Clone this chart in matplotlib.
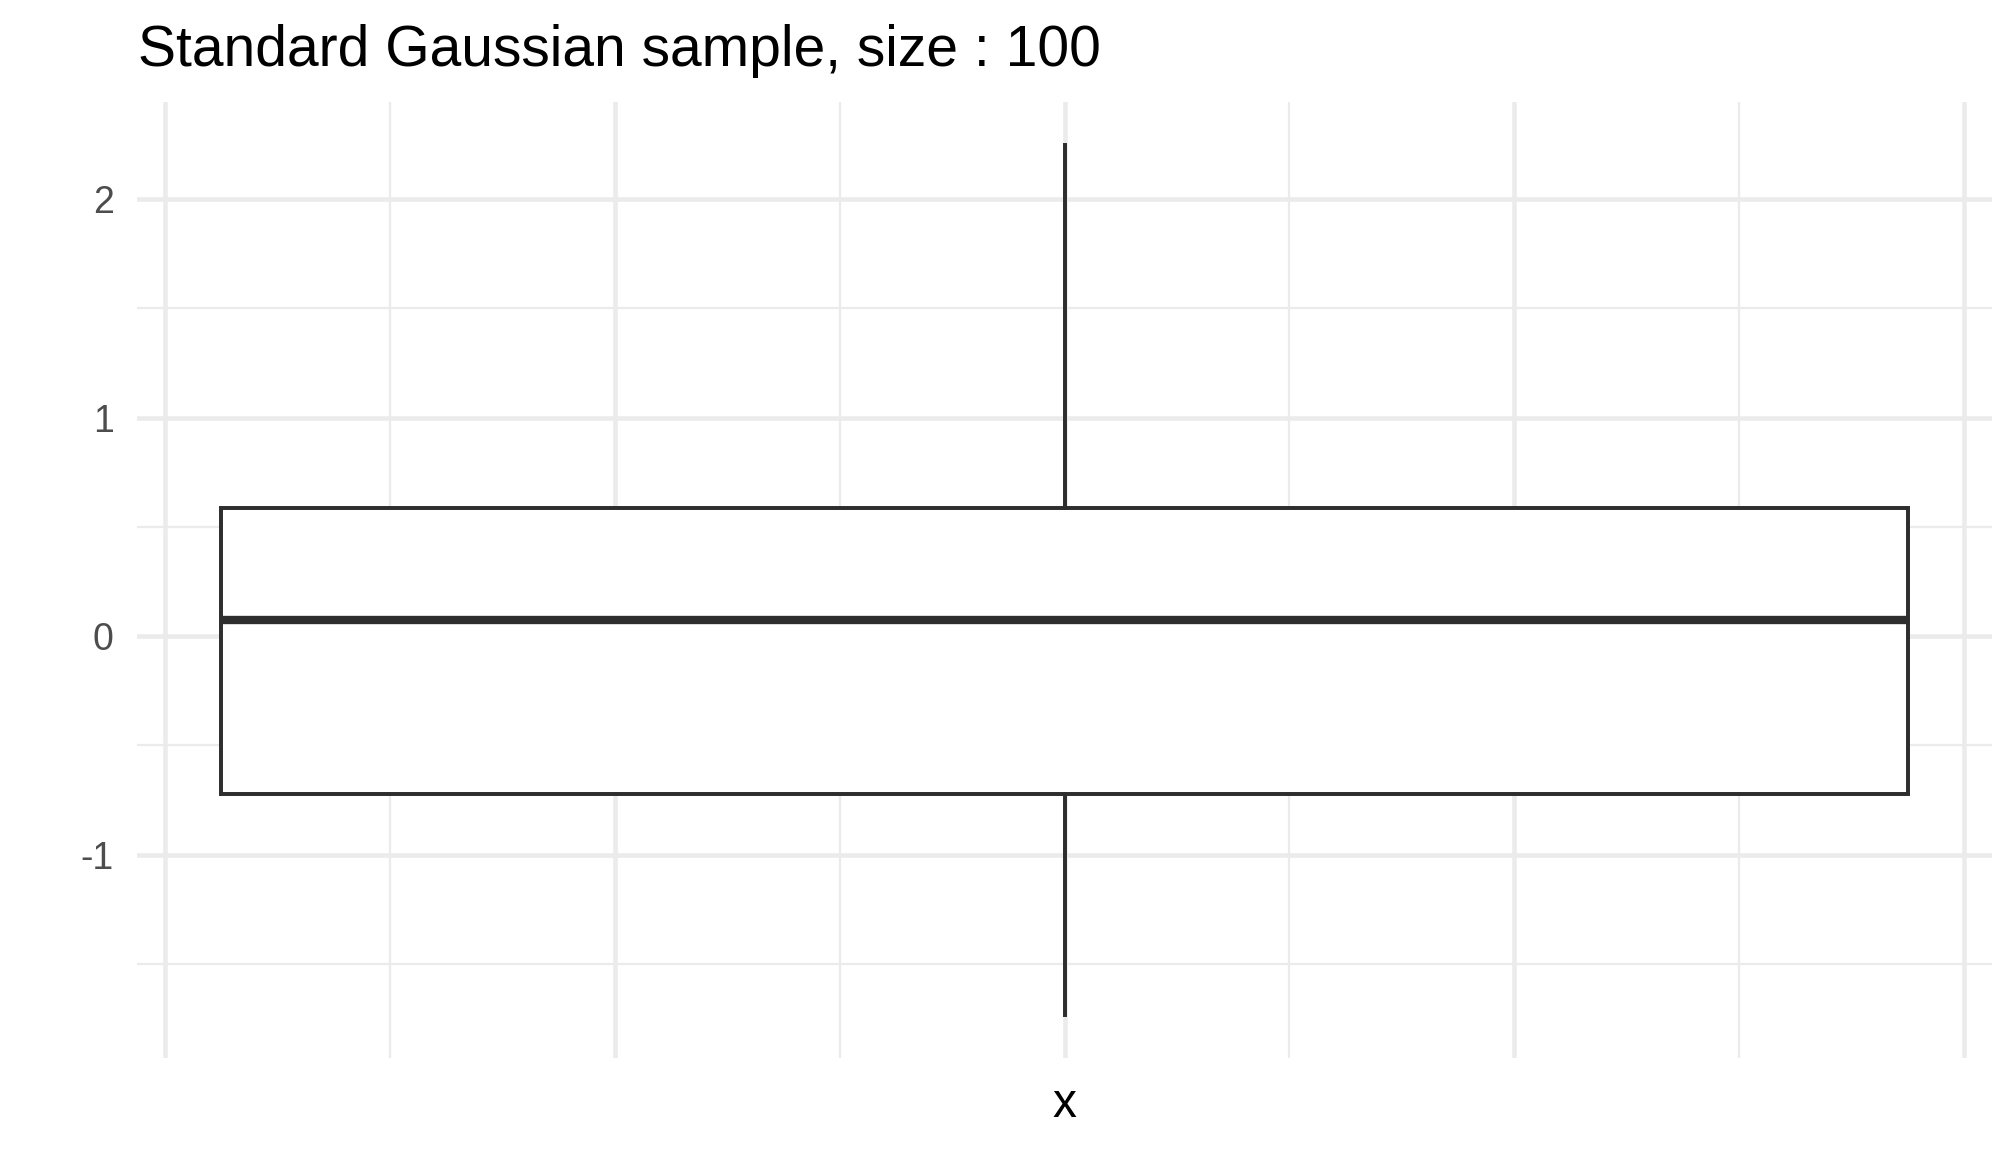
import matplotlib.pyplot as plt
from matplotlib.ticker import FixedLocator, NullFormatter

plt.rcParams['font.family'] = ['Liberation Sans', 'DejaVu Sans']

# five-number summary
labels = ["x"]
whislo = [-1.731]
q1 = [-0.723]
med = [0.072]
q3 = [0.588]
whishi = [2.245]

y_major = [-1, 0, 1, 2]
y_minor = [-1.5, -0.5, 0.5, 1.5]
x_major = [-0.4, -0.2, 0.0, 0.2, 0.4]
x_minor = [-0.3, -0.1, 0.1, 0.3]

stats = []
for i in range(len(labels)):
    stats.append(dict(label=labels[i], whislo=whislo[i], q1=q1[i], med=med[i],
                      q3=q3[i], whishi=whishi[i], fliers=[]))

fig = plt.figure(figsize=(6.72, 3.84), dpi=300)
ax = fig.add_axes([137 / 2016, 1 - 1058 / 1152, (1992 - 137) / 2016, (1058 - 102) / 1152])

line_col = '#2E2E2E'
ax.bxp(stats, positions=[0], widths=0.75, showfliers=False, showcaps=False,
       patch_artist=True,
       boxprops=dict(facecolor='white', edgecolor=line_col, linewidth=0.95),
       whiskerprops=dict(color=line_col, linewidth=0.95),
       medianprops=dict(color=line_col, linewidth=2.0, solid_capstyle='butt'),
       zorder=3)

# ggplot-style limits: 5% expansion
lo, hi = min(whislo), max(whishi)
pad = (hi - lo) * 0.05
ax.set_ylim(lo - pad, hi + pad)
ax.set_xlim(-0.4125, 0.4125)

ax.yaxis.set_major_locator(FixedLocator(y_major))
ax.yaxis.set_minor_locator(FixedLocator(y_minor))
ax.xaxis.set_major_locator(FixedLocator(x_major))
ax.xaxis.set_minor_locator(FixedLocator(x_minor))
ax.xaxis.set_major_formatter(NullFormatter())
ax.set_yticklabels([str(v) for v in y_major])

ax.grid(which='major', color='#EBEBEB', linewidth=1.1, zorder=0)
ax.grid(which='minor', color='#EBEBEB', linewidth=0.55, zorder=0)
ax.set_axisbelow(True)
ax.tick_params(which='both', length=0)
ax.tick_params(axis='y', labelsize=9.0, labelcolor='#4D4D4D', pad=5.6)
for s in ax.spines.values():
    s.set_visible(False)

fig.text(138 / 2016, 1 - 66 / 1152, "Standard Gaussian sample, size : 100",
         fontsize=13.7, color='black', ha='left', va='baseline')
fig.text((137 + 1992) / 2 / 2016, 1 - 1117 / 1152, "x",
         fontsize=11.5, color='black', ha='center', va='baseline')

fig.savefig('out.png', dpi=300, facecolor='white')
